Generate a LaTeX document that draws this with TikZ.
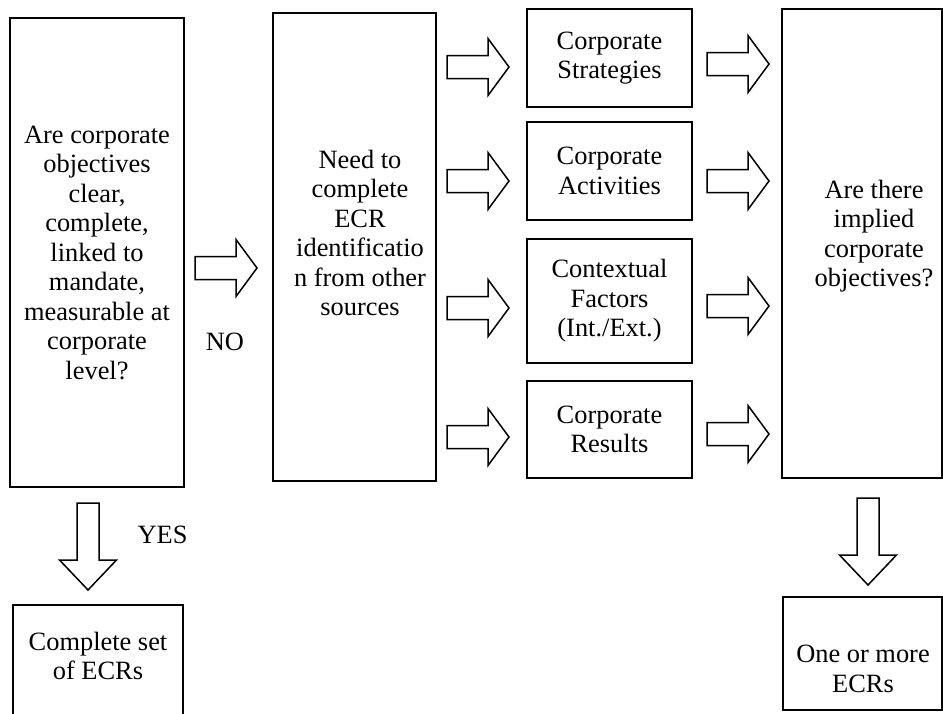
\documentclass[tikz,border=0pt]{standalone}
\usepackage{fontspec}
\setmainfont{Liberation Serif}
\usetikzlibrary{calc}

\tikzset{
	box/.style={draw,line width=1.8pt,align=center,inner sep=0pt,font=\fontsize{26.4pt}{29.5pt}\selectfont},
	txt/.style={align=center,inner sep=0pt,font=\fontsize{26.4pt}{29.5pt}\selectfont},
	rarrow/.pic={\draw[line width=1.5pt,line join=miter] (0,-11.5) -- (41,-11.5) -- (41,-28.5) -- (62,0) -- (41,28.5) -- (41,11.5) -- (0,11.5) -- cycle;},
	darrow/.pic={\draw[line width=1.5pt,line join=miter] (-11,0) -- (-11,57) -- (-28.5,57) -- (0,87) -- (28.5,57) -- (11,57) -- (11,0) -- cycle;}
}

\begin{document}
\begin{tikzpicture}[x=1pt,y=-1pt]
	\useasboundingbox (0,0) rectangle (943,713);
	% first question
	\node[box,minimum width=174pt,minimum height=469pt] (quest) at (97,252.5) {Are corporate\\objectives\\clear,\\complete,\\linked to\\mandate,\\measurable at\\corporate\\level?};
	% other sources
	\node[box,minimum width=163pt,minimum height=468pt] (need) at (354.5,247) {};
	\node[txt] (needtxt) at (360,233) {Need to\\complete\\ECR\\identificatio\\n from other\\sources};
	% the four sources
	\node[box,minimum width=165pt,minimum height=98pt] (strat) at (609.5,58) {Corporate\\Strategies};
	\node[box,minimum width=165pt,minimum height=98pt] (activ) at (609.5,171) {Corporate\\Activities};
	\node[box,minimum width=165pt,minimum height=124pt] (ctx) at (609.5,301) {Contextual\\Factors\\(Int./Ext.)};
	\node[box,minimum width=165pt,minimum height=97pt] (res) at (609.5,429.5) {Corporate\\Results};
	% implied objectives
	\node[box,minimum width=160pt,minimum height=469pt] (implied) at (862,243.5) {};
	\node[txt] (impliedtxt) at (874,236) {Are there\\implied\\corporate\\objectives?};
	% outcomes
	\node[box,minimum width=170pt,minimum height=135pt] (set) at (98,672.5) {};
	\node[txt] (settxt) at (98,656) {Complete set\\of ECRs};
	\node[box,minimum width=159pt,minimum height=113pt] (ecrs) at (862.5,653.5) {};
	\node[txt] (ecrstxt) at (863,669) {One or more\\ECRs};
	% block arrows
	\pic at (195,268) {rarrow};
	\node[txt] (no) at (225,342) {NO};
	\pic at (88,503) {darrow};
	\node[txt] (yes) at (162.5,535) {YES};
	\pic at (447,67) {rarrow};
	\pic at (447,181) {rarrow};
	\pic at (447,308) {rarrow};
	\pic at (447,437) {rarrow};
	\pic at (707,64) {rarrow};
	\pic at (707,181) {rarrow};
	\pic at (707,306) {rarrow};
	\pic at (707,434) {rarrow};
	\pic at (868,498) {darrow};
\end{tikzpicture}
\end{document}
